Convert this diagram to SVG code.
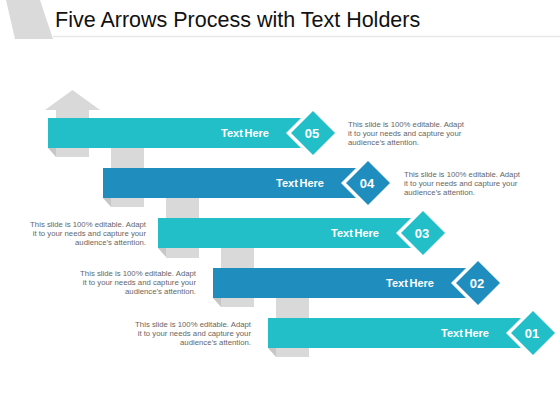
<svg xmlns="http://www.w3.org/2000/svg" width="560" height="420" viewBox="0 0 560 420">
<style>
.teal{fill:#22BFC9}
.blue{fill:#1F8EBE}
.col{fill:#D9D9D9}
.fold{fill:#C6C6C6}
.lbl{font-family:"Liberation Sans",Arial,sans-serif;font-weight:bold;font-size:11px;fill:#FFFFFF;text-anchor:middle;word-spacing:-1.5px}
.num{font-family:"Liberation Sans",Arial,sans-serif;font-weight:bold;font-size:13px;fill:#FFFFFF;text-anchor:middle}
.desc{font-family:"Liberation Sans",Arial,sans-serif;font-size:7.75px;fill:#666666}
.r{text-anchor:end}
.title{font-family:"Liberation Sans",Arial,sans-serif;font-size:21.5px;fill:#111111}
</style>
<rect width="560" height="420" fill="#FFFFFF"/>
<polygon points="6,0 40,0 53,39 15,39" fill="#DADADA"/>
<line x1="53" y1="36.5" x2="560" y2="36.5" stroke="#E8E8E8" stroke-width="1.5"/>
<text class="title" x="55" y="27">Five Arrows Process with Text Holders</text>

<g id="connectors">
  <polygon class="col" points="45,110 72.5,90 100,110"/>
  <rect class="col" x="56" y="109" width="33" height="48"/>
  <polygon class="fold" points="48,148 56,148 56,157"/>
  <rect class="col" x="111" y="143" width="33" height="64"/>
  <polygon class="fold" points="103,198 111,198 111,207"/>
  <rect class="col" x="166" y="193" width="33" height="65"/>
  <polygon class="fold" points="158,248 166,248 166,257"/>
  <rect class="col" x="221" y="243" width="33" height="64"/>
  <polygon class="fold" points="213,298 221,298 221,307"/>
  <rect class="col" x="276" y="293" width="33" height="64"/>
  <polygon class="fold" points="268,348 276,348 276,357"/>
</g>

<g id="step05">
  <polygon class="teal" points="48,118 301,118 286,133 301,148 48,148"/>
  <polygon class="teal" points="291,133 313,111 335,133 313,155"/>
  <text class="lbl" x="245" y="137">Text Here</text>
  <text class="num" x="312" y="137.5">05</text>
  <text class="desc" x="348"><tspan x="348" y="127">This slide is 100% editable. Adapt</tspan><tspan x="348" y="136">it to your needs and capture your</tspan><tspan x="348" y="145">audience’s attention.</tspan></text>
</g>

<g id="step04">
  <polygon class="blue" points="103,168 356,168 341,183 356,198 103,198"/>
  <polygon class="blue" points="346,183 368,161 390,183 368,205"/>
  <text class="lbl" x="300" y="187">Text Here</text>
  <text class="num" x="367" y="187.5">04</text>
  <text class="desc" x="404"><tspan x="404" y="177">This slide is 100% editable. Adapt</tspan><tspan x="404" y="186">it to your needs and capture your</tspan><tspan x="404" y="195">audience’s attention.</tspan></text>
</g>

<g id="step03">
  <polygon class="teal" points="158,218 411,218 396,233 411,248 158,248"/>
  <polygon class="teal" points="401,233 423,211 445,233 423,255"/>
  <text class="lbl" x="355" y="237">Text Here</text>
  <text class="num" x="422" y="237.5">03</text>
  <text class="desc r" x="146"><tspan x="146" y="227">This slide is 100% editable. Adapt</tspan><tspan x="146" y="236">it to your needs and capture your</tspan><tspan x="146" y="245">audience’s attention.</tspan></text>
</g>

<g id="step02">
  <polygon class="blue" points="213,268 466,268 451,283 466,298 213,298"/>
  <polygon class="blue" points="456,283 478,261 500,283 478,305"/>
  <text class="lbl" x="410" y="287">Text Here</text>
  <text class="num" x="477" y="287.5">02</text>
  <text class="desc r" x="196"><tspan x="196" y="276">This slide is 100% editable. Adapt</tspan><tspan x="196" y="285">it to your needs and capture your</tspan><tspan x="196" y="294">audience’s attention.</tspan></text>
</g>

<g id="step01">
  <polygon class="teal" points="268,318 521,318 506,333 521,348 268,348"/>
  <polygon class="teal" points="511,333 533,311 555,333 533,355"/>
  <text class="lbl" x="465" y="337">Text Here</text>
  <text class="num" x="532" y="337.5">01</text>
  <text class="desc r" x="251"><tspan x="251" y="327">This slide is 100% editable. Adapt</tspan><tspan x="251" y="336">it to your needs and capture your</tspan><tspan x="251" y="345">audience’s attention.</tspan></text>
</g>
</svg>
